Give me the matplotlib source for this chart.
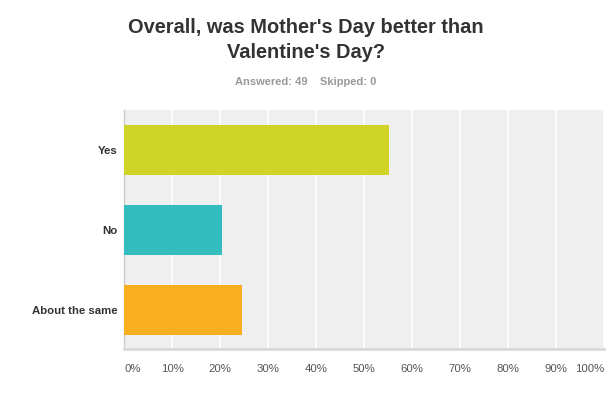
import matplotlib
matplotlib.use('Agg')
import matplotlib.pyplot as plt

plt.rcParams['font.family'] = ['Liberation Sans', 'DejaVu Sans']

choices  = ["Yes", "No", "About the same"]
percents = [55.10, 20.41, 24.49]
colors   = ["#D0D426", "#33BDBF", "#F7AF1F"]
ticks    = [0, 10, 20, 30, 40, 50, 60, 70, 80, 90, 100]
tick_labels = [f"{t}%" for t in ticks]

fig = plt.figure(figsize=(6.09, 3.94), dpi=100, facecolor="white")
ax = fig.add_axes([124.3 / 609, 1 - 349 / 394, 480 / 609, 239 / 394])
ax.set_facecolor("#EFEFEF")

ax.barh(range(len(choices)), percents, height=0.625, color=colors, zorder=3)
ax.set_xlim(0, 100)
ax.set_ylim(2.49, -0.5)

ax.set_xticks(ticks)
ax.set_xticklabels(tick_labels, fontsize=8.2, color="#555555")
# first label sits right of the axis, last one ends at the plot edge
xt = ax.get_xticklabels()
xt[0].set_ha("left")
xt[-1].set_ha("right")
ax.set_yticks(range(len(choices)))
ax.set_yticklabels(choices, fontsize=8.2, fontweight="bold", color="#333333")
ax.tick_params(axis="both", length=0)
ax.tick_params(axis="x", pad=11)
ax.tick_params(axis="y", pad=5)

ax.grid(axis="x", color="white", linewidth=1.2, zorder=1)
ax.set_axisbelow(True)

for side in ["top", "right"]:
    ax.spines[side].set_visible(False)
ax.spines["left"].set_color("#CCCCCC")
ax.spines["left"].set_linewidth(1.0)
ax.spines["bottom"].set_color("#D9D9D9")
ax.spines["bottom"].set_linewidth(2.0)

fig.text(306 / 609, 1 - 40 / 394, "Overall, was Mother's Day better than\nValentine's Day?",
         ha="center", va="center", fontsize=14.4, fontweight="bold",
         color="#333333", linespacing=1.35)
fig.text(306 / 609, 1 - 82 / 394, "Answered: 49    Skipped: 0",
         ha="center", va="center", fontsize=8, fontweight="bold", color="#999999")

fig.savefig("out.png", dpi=100)
